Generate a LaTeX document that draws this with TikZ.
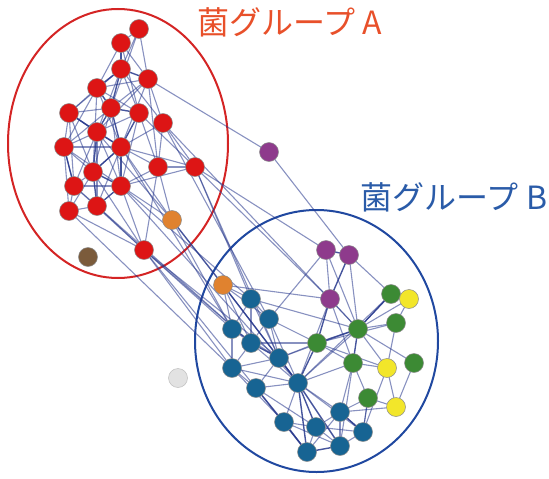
\documentclass[tikz,border=0pt]{standalone}
\usepackage{fontspec}
\newfontfamily\jpfont{Noto Sans CJK JP}
\definecolor{nred}{HTML}{DD1515}
\definecolor{nblue}{HTML}{176493}
\definecolor{ngreen}{HTML}{3C8A34}
\definecolor{nyellow}{HTML}{F2E62A}
\definecolor{npurple}{HTML}{8E3B8C}
\definecolor{norange}{HTML}{E0822F}
\definecolor{nbrown}{HTML}{7B5B3B}
\definecolor{ngray}{HTML}{E2E2E2}
\definecolor{edgecol}{HTML}{26378C}
\definecolor{ellred}{HTML}{D42424}
\definecolor{ellblue}{HTML}{2048A0}
\definecolor{labred}{HTML}{E8502A}
\definecolor{labblue}{HTML}{2A5BA8}
\begin{document}
\begin{tikzpicture}[x=1pt,y=-1pt,
  nd/.style={circle,minimum size=19pt,inner sep=0pt,draw=black!45,line width=0.5pt},
  edge/.style={draw=edgecol,line width=1.1pt,opacity=0.55},
  edgeD/.style={draw=edgecol,line width=1.4pt,opacity=0.85},
  grp/.style={line width=2pt},
  lab/.style={font=\jpfont\fontsize{32}{34}\selectfont,inner sep=0pt}]
\useasboundingbox (0,0) rectangle (549,479);
% group ellipses
\draw[grp,ellred] (118,143.5) ellipse [x radius=110,y radius=134.5];
\draw[grp,ellblue] (316.5,341) ellipse [x radius=121.5,y radius=131];
% nodes coordinates
\foreach \n/\x/\y in {a1/139/29,a2/121/43,a3/121/69,a4/148/79,a5/97/88,a6/69/113,a7/111/108,a8/139/113,a9/163/123,a10/97/132,a11/64/147,a12/121/147,a13/158/167,a14/195/167,a15/93/172,a16/74/186,a17/121/186,a18/69/211,a19/97/206,a20/144/250,
 c1/251/299,c2/269/319,c3/232/329,c4/251/343,c5/279/358,c6/232/368,c7/298/383,c8/256/388,c9/340/412,c10/284/422,c11/316/427,c12/363/432,c13/307/452,c14/340/446,
 p0/269/152,p1/326/250,p2/349/255,p3/330/299,
 g1/391/294,g2/396/323,g3/358/329,g4/317/343,g5/353/363,g6/414/363,g7/368/398,
 y1/409/299,y2/387/368,y3/396/407,o1/172/220,o2/223/285,br/88/257,gr/178/378}
  \coordinate (\n) at (\x,\y);
% edges (light)
\foreach \u/\v in {a1/a2,a1/a3,a1/a4,a1/a7,a2/a4,a2/a5,a2/a8,a3/a6,a3/a8,a3/a10,a3/a9,a4/a5,a4/a7,a4/a10,a4/a12,a4/a13,a4/a9,
 a5/a6,a5/a8,a5/a11,a5/a12,a5/a15,a6/a7,a6/a12,a6/a15,a6/a16,a6/a10,a7/a11,a7/a15,a7/a17,a8/a10,a8/a13,a8/a17,a8/a14,a9/a12,a9/a14,a9/a13,
 a10/a11,a10/a16,a10/a19,a10/a17,a11/a12,a11/a16,a11/a18,a11/a15,a12/a13,a12/a14,a12/a15,a12/a19,a13/a14,a13/a17,a15/a16,a15/a18,a15/a20,
 a16/a18,a16/a19,a16/a17,a16/a20,a17/a20,a18/a19,a18/a20,a11/a17,a6/a11,a13/a20,a14/a17,a19/a20,
 a4/p0,p0/p2,a14/p1,a14/c1,a14/p3,a9/c2,a13/o1,a12/o1,a17/o1,a10/o1,a9/g3,a17/c1,a12/c3,a20/c3,a20/c6,a20/c5,a20/c8,a20/c4,a18/c6,a19/c4,a17/c7,a14/c5,
 o2/c1,o2/c3,o2/c4,o2/c5,o2/c2,o2/p3,o1/c3,
 c1/c2,c1/c3,c1/c4,c1/c5,c2/c4,c2/c5,c2/c7,c2/g4,c3/c4,c3/c6,c3/c5,c4/c6,c4/c7,c5/c6,c5/c8,c6/c8,c6/c7,c7/c8,c6/c10,
 c7/c9,c7/c10,c7/c12,c7/g3,c7/g5,c7/g1,c8/c10,c8/c11,c10/c11,c11/c9,c11/c14,c11/c12,c9/c14,c9/c12,c9/g7,c9/g5,c9/y3,c12/g7,c14/c12,c13/c9,c5/g4,c4/g4,c5/g3,c1/g3,c10/c14,c13/c11,
 p1/p3,p1/g3,p1/c2,p2/g1,p2/g3,p3/g3,p3/g5,p3/c7,g1/g3,g1/y1,g2/y1,g2/g3,g3/g6,g3/y2,g4/g5,g4/y2,g5/g7,g5/y2,g2/y2,y2/y3,g6/y3,g7/y3,g7/c12,y1/g3,g4/g2,g5/c14,y2/c12}
  \draw[edge] (\u) -- (\v);
% edges (dark)
\foreach \u/\v in {a5/a7,a7/a8,a3/a4,a3/a5,a7/a10,a7/a12,a10/a12,a10/a15,a12/a17,a15/a17,a15/a19,a17/a19,a8/a12,a2/a3,a3/a7,a6/a10,a11/a16,a12/a15,
 o1/o2,o2/c7,c4/c5,c5/c7,c7/c11,c7/c13,c7/c14,c10/c13,c13/c14,c7/g4,g3/g4,p2/p3,p1/p2,p3/g4,g1/g3,g3/g5,c9/c12,c8/c13}
  \draw[edgeD] (\u) -- (\v);
% nodes
\foreach \n in {a1,a2,a3,a4,a5,a6,a7,a8,a9,a10,a11,a12,a13,a14,a15,a16,a17,a18,a19,a20}
  \node[nd,fill=nred] (n\n) at (\n) {};
\foreach \n in {c1,c2,c3,c4,c5,c6,c7,c8,c9,c10,c11,c12,c13,c14}
  \node[nd,fill=nblue] (n\n) at (\n) {};
\foreach \n in {p0,p1,p2,p3}
  \node[nd,fill=npurple] (n\n) at (\n) {};
\foreach \n in {g1,g2,g3,g4,g5,g6,g7}
  \node[nd,fill=ngreen] (n\n) at (\n) {};
\foreach \n in {y1,y2,y3}
  \node[nd,fill=nyellow] (n\n) at (\n) {};
\foreach \n in {o1,o2}
  \node[nd,fill=norange] (n\n) at (\n) {};
\node[nd,fill=nbrown] (nbr) at (br) {};
\node[nd,fill=ngray,draw=black!25] (ngr) at (gr) {};
% labels
\node[lab,text=labred] (labA) at (290,22) {菌グループ A};
\node[lab,text=labblue] (labB) at (454,197) {菌グループ B};
\end{tikzpicture}
\end{document}
